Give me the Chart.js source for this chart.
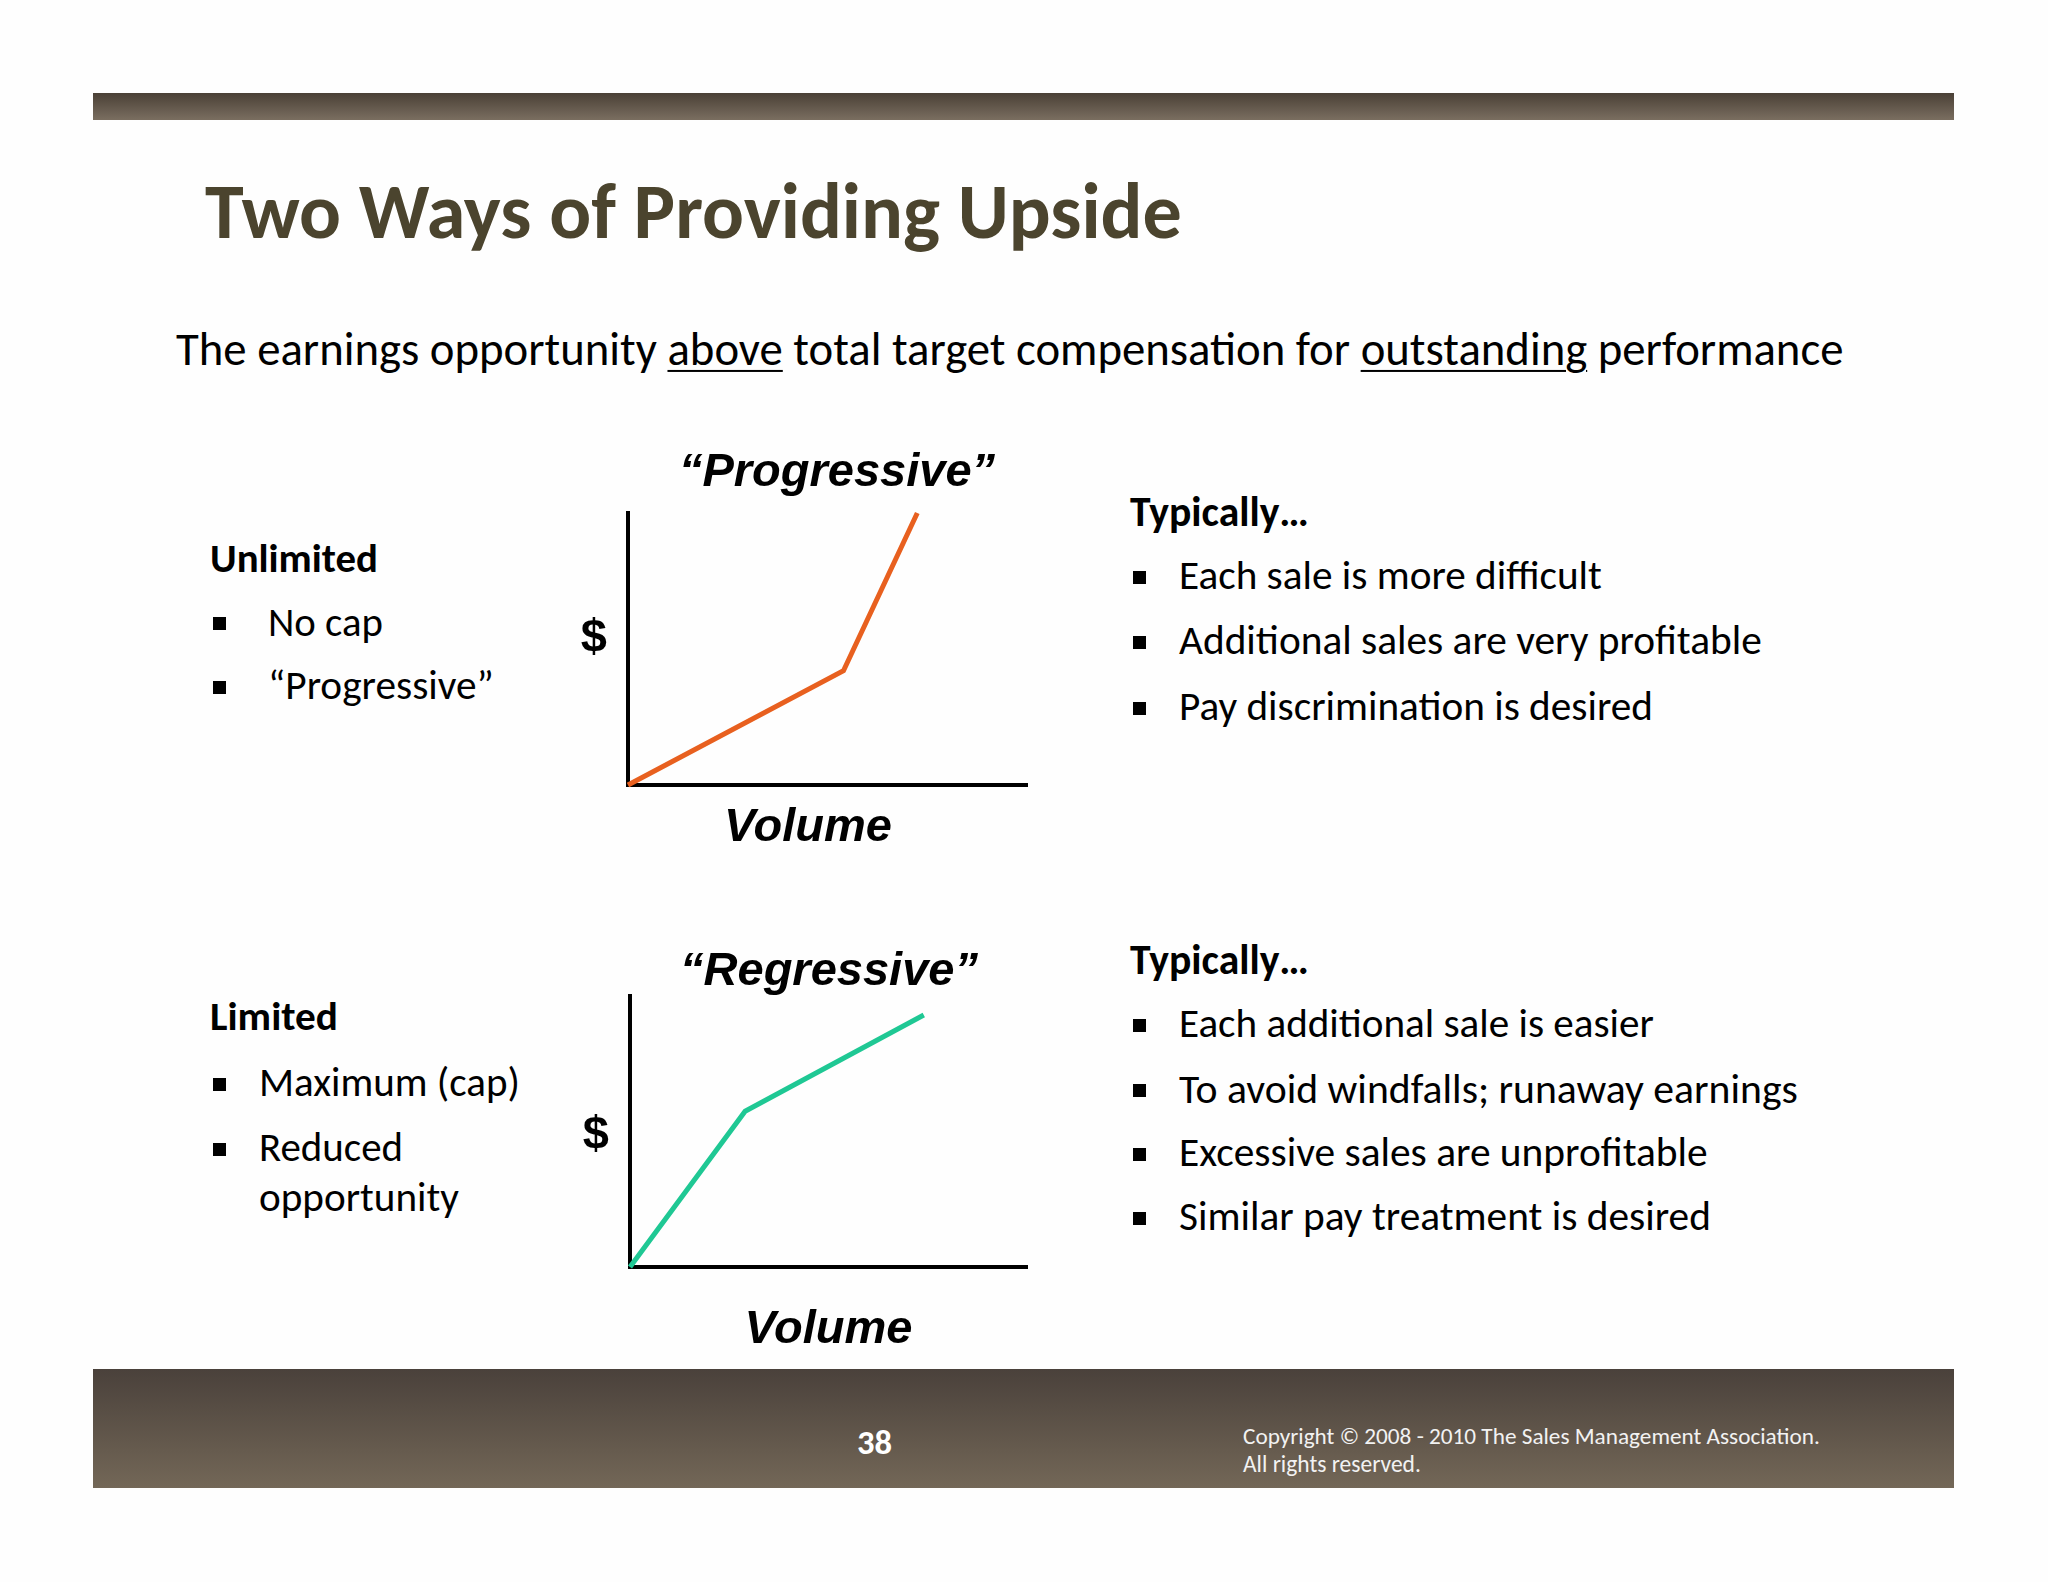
<!DOCTYPE html>
<html>
<head>
<meta charset="utf-8">
<script src="https://cdn.jsdelivr.net/npm/chart.js@4.4.0/dist/chart.umd.min.js"></script>
<style>
  body { margin: 0; width: 2048px; height: 1582px; background: #fefefe; position: relative; overflow: hidden;
         font-family: Carlito, Calibri, Lato, sans-serif; color: #000; }
  .bar { position: absolute; left: 93px; width: 1861px; }
  .t { position: absolute; white-space: nowrap; line-height: 1.2; transform: translateY(-50%); font-size: 40px; }
  .b { font-weight: bold; }
  .sq { position: absolute; width: 13px; height: 13px; background: #000; }
  .box { position: absolute; }
  u { text-decoration-thickness: 2px; text-underline-offset: 5px; }
</style>
</head>
<body>
<div class="bar" style="top:93px;height:27px;background:linear-gradient(#4a4036,#7a6e60);"></div>
<div class="bar" style="top:1369px;height:119px;background:linear-gradient(#4a413b,#736757);"></div>

<div class="t b" style="left:205px;top:212px;font-size:70px;color:#4b442e;" data-w="977">Two Ways of Providing Upside</div>
<div class="t" style="left:176px;top:349px;" data-w="1668">The earnings opportunity <u>above</u> total target compensation for <u>outstanding</u> performance</div>

<div class="t b" style="left:210px;top:558px;" data-w="168">Unlimited</div>
<div class="sq" style="left:213px;top:617px;"></div>
<div class="t" style="left:268px;top:622px;" data-w="115">No cap</div>
<div class="sq" style="left:213px;top:681px;"></div>
<div class="t" style="left:268px;top:686px;" data-w="226">“Progressive”</div>

<div class="t b" style="left:210px;top:1017px;" data-w="128">Limited</div>
<div class="sq" style="left:213px;top:1078px;"></div>
<div class="t" style="left:259px;top:1083px;" data-w="261">Maximum (cap)</div>
<div class="sq" style="left:213px;top:1143px;"></div>
<div class="t" style="left:259px;top:1148px;" data-w="144">Reduced</div>
<div class="t" style="left:259px;top:1198px;" data-w="200">opportunity</div>

<div class="t b" style="left:1130px;top:512px;" data-w="179">Typically…</div>
<div class="sq" style="left:1133px;top:571px;"></div>
<div class="t" style="left:1179px;top:576px;" data-w="423">Each sale is more difficult</div>
<div class="sq" style="left:1133px;top:636px;"></div>
<div class="t" style="left:1179px;top:641px;" data-w="583">Additional sales are very profitable</div>
<div class="sq" style="left:1133px;top:702px;"></div>
<div class="t" style="left:1179px;top:707px;" data-w="474">Pay discrimination is desired</div>

<div class="t b" style="left:1130px;top:960px;" data-w="179">Typically…</div>
<div class="sq" style="left:1133px;top:1019px;"></div>
<div class="t" style="left:1179px;top:1024px;" data-w="475">Each additional sale is easier</div>
<div class="sq" style="left:1133px;top:1084px;"></div>
<div class="t" style="left:1179px;top:1089px;" data-w="619">To avoid windfalls; runaway earnings</div>
<div class="sq" style="left:1133px;top:1148px;"></div>
<div class="t" style="left:1179px;top:1153px;" data-w="529">Excessive sales are unprofitable</div>
<div class="sq" style="left:1133px;top:1212px;"></div>
<div class="t" style="left:1179px;top:1217px;" data-w="532">Similar pay treatment is desired</div>

<div class="t b" style="left:857px;top:1443px;color:#fff;font-size:32px;" data-w="35">38</div>
<div class="t" style="left:1243px;top:1437px;color:#f2f2f2;font-size:22px;" data-w="577">Copyright © 2008 - 2010 The Sales Management Association.</div>
<div class="t" style="left:1243px;top:1464px;color:#f2f2f2;font-size:22px;" data-w="178">All rights reserved.</div>

<div class="box" style="left:560px;top:430px;width:554px;height:426px;"><canvas id="progChart"></canvas></div>
<div class="box" style="left:560px;top:940px;width:538px;height:418px;"><canvas id="regChart"></canvas></div>

<script>
// volume (x) and pay (y), 0-10 scale on both axes
const progressiveVolume = [0, 5.4, 7.25];
const progressivePay = [0, 4.2, 10];
const regressiveVolume = [0, 2.9, 7.4];
const regressivePay = [0, 5.75, 9.3];

const chartTitles = ['“Progressive”', '“Regressive”'];
const xAxisLabels = ['Volume\u00A0\u00A0\u00A0', 'Volume'];
const yAxisLabel = '$';
const dollarTick = [5.35, 4.85];

const bigFont = (style) => ({ family: "'Liberation Sans', Arial, sans-serif", size: 47, weight: 'bold', style: style, lineHeight: 1 });

makeChart = (id, xs, ys, color, title, xLabel, tickAt, lay) => {
  return new Chart(document.getElementById(id), {
    type: 'line',
    data: {
      datasets: [{
        data: xs.map((x, i) => ({ x: x, y: ys[i] })),
        borderColor: color,
        borderWidth: 5,
        pointRadius: 0,
        tension: 0,
        clip: false
      }]
    },
    options: {
      responsive: true,
      maintainAspectRatio: false,
      animation: false,
      plugins: {
        legend: { display: false },
        tooltip: { enabled: false },
        title: {
          display: true,
          text: title,
          color: '#000',
          font: bigFont('italic'),
          padding: { top: lay.titleTop, bottom: lay.titleBottom }
        }
      },
      scales: {
        x: {
          type: 'linear',
          min: 0,
          max: 10,
          grid: { display: false, drawTicks: false, tickLength: 0 },
          border: { display: true, color: '#000', width: 4 },
          ticks: { display: false },
          title: {
            display: true,
            text: xLabel,
            color: '#000',
            font: bigFont('italic'),
            padding: { top: lay.volTop, bottom: 4 }
          }
        },
        y: {
          min: 0,
          max: 10,
          grid: { display: false, drawTicks: false, tickLength: 0 },
          border: { display: true, color: '#000', width: 4 },
          afterBuildTicks: (axis) => { axis.ticks = [{ value: tickAt }]; },
          afterFit: (axis) => { axis.width = lay.yWidth; },
          ticks: {
            color: '#000',
            padding: 21,
            font: bigFont('normal'),
            callback: () => yAxisLabel
          }
        },
        // empty right-hand axis: keeps room on the right so the title sits where it does on the slide
        spacer: {
          position: 'right',
          grid: { display: false, drawTicks: false },
          border: { display: false },
          ticks: { display: false },
          afterFit: (axis) => { axis.width = lay.right; }
        }
      }
    }
  });
};

makeChart('progChart', progressiveVolume, progressivePay, '#e8601f', chartTitles[0], xAxisLabels[0], dollarTick[0],
  { right: 87, titleTop: 20, titleBottom: 16, volTop: 20, yWidth: 68 });
makeChart('regChart', regressiveVolume, regressivePay, '#1fc894', chartTitles[1], xAxisLabels[1], dollarTick[1],
  { right: 71, titleTop: 9, titleBottom: 0, volTop: 40, yWidth: 70 });

// fit the slide text to the widths measured on the original
fitText = () => {
  document.querySelectorAll('[data-w]').forEach(el => {
    var w = el.getBoundingClientRect().width;
    var size = parseFloat(getComputedStyle(el).fontSize);
    el.style.fontSize = (size * el.dataset.w / w) + 'px';
  });
};
document.fonts.ready.then(fitText);
</script>
</body>
</html>
